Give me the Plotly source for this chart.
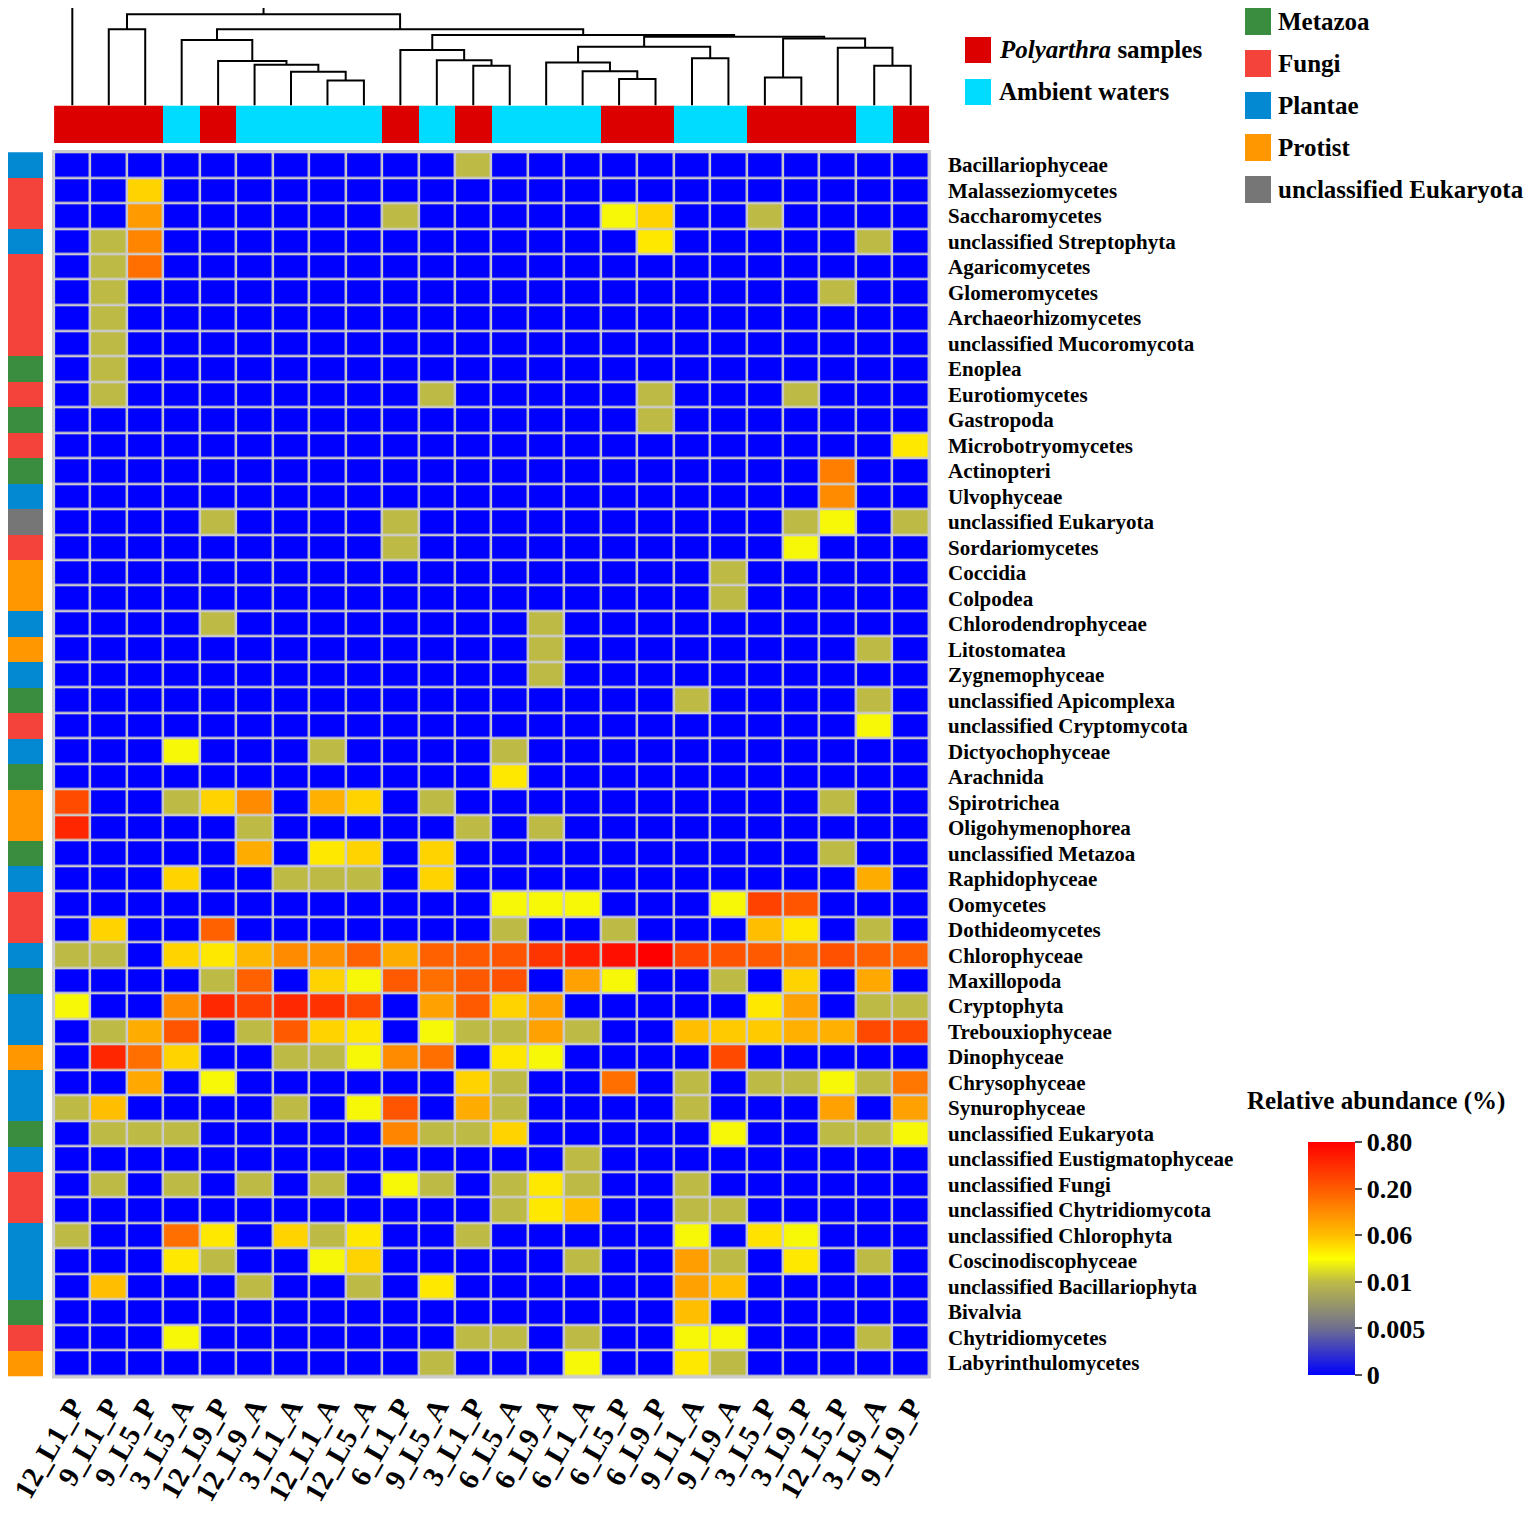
import numpy as np
import plotly.graph_objects as go

W, H = 1535, 1525
# the page puts the plot 8px in from the corner, so the figure is a bit smaller
OFF = 8
FW, FH = W - OFF, H - OFF
FONT = 'Liberation Serif, Times New Roman, serif'


def px_x(p):
    return min(max((p - OFF) / FW, 0.0), 1.0)


def px_y(p):
    return min(max(1 - (p - OFF) / FH, 0.0), 1.0)


samples = ['12_L1_P', '9_L1_P', '9_L5_P', '3_L5_A', '12_L9_P', '12_L9_A', '3_L1_A', '12_L1_A',
           '12_L5_A', '6_L1_P', '9_L5_A', '3_L1_P', '6_L5_A', '6_L9_A', '6_L1_A', '6_L5_P',
           '6_L9_P', '9_L1_A', '9_L9_A', '3_L5_P', '3_L9_P', '12_L5_P', '3_L9_A', '9_L9_P']

taxa = ['Bacillariophyceae', 'Malasseziomycetes', 'Saccharomycetes', 'unclassified Streptophyta',
        'Agaricomycetes', 'Glomeromycetes', 'Archaeorhizomycetes', 'unclassified Mucoromycota',
        'Enoplea', 'Eurotiomycetes', 'Gastropoda', 'Microbotryomycetes', 'Actinopteri',
        'Ulvophyceae', 'unclassified Eukaryota', 'Sordariomycetes', 'Coccidia', 'Colpodea',
        'Chlorodendrophyceae', 'Litostomatea', 'Zygnemophyceae', 'unclassified Apicomplexa',
        'unclassified Cryptomycota', 'Dictyochophyceae', 'Arachnida', 'Spirotrichea',
        'Oligohymenophorea', 'unclassified Metazoa', 'Raphidophyceae', 'Oomycetes',
        'Dothideomycetes', 'Chlorophyceae', 'Maxillopoda', 'Cryptophyta', 'Trebouxiophyceae',
        'Dinophyceae', 'Chrysophyceae', 'Synurophyceae', 'unclassified Eukaryota',
        'unclassified Eustigmatophyceae', 'unclassified Fungi', 'unclassified Chytridiomycota',
        'unclassified Chlorophyta', 'Coscinodiscophyceae', 'unclassified Bacillariophyta',
        'Bivalvia', 'Chytridiomycetes', 'Labyrinthulomycetes']

taxa_kingdom = ['Plantae', 'Fungi', 'Fungi', 'Plantae', 'Fungi', 'Fungi', 'Fungi', 'Fungi',
                'Metazoa', 'Fungi', 'Metazoa', 'Fungi', 'Metazoa', 'Plantae',
                'unclassified Eukaryota', 'Fungi', 'Protist', 'Protist', 'Plantae', 'Protist',
                'Plantae', 'Metazoa', 'Fungi', 'Plantae', 'Metazoa', 'Protist', 'Protist',
                'Metazoa', 'Plantae', 'Fungi', 'Fungi', 'Plantae', 'Metazoa', 'Plantae',
                'Plantae', 'Protist', 'Plantae', 'Plantae', 'Metazoa', 'Plantae', 'Fungi',
                'Fungi', 'Plantae', 'Plantae', 'Plantae', 'Metazoa', 'Fungi', 'Protist']

kingdoms = ['Metazoa', 'Fungi', 'Plantae', 'Protist', 'unclassified Eukaryota']
kingdom_colors = ['#3a8d3e', '#f4433a', '#0289d2', '#ff9800', '#767676']

groups = ['Polyarthra samples', 'Ambient waters']
group_colors = ['#dd0000', '#00dcff']

# relative abundance (%), one row per taxon, columns in sample order
abundance = [
    [0, 0, 0, 0, 0, 0, 0, 0, 0, 0, 0, .01, 0, 0, 0, 0, 0, 0, 0, 0, 0, 0, 0, 0],
    [0, 0, .052, 0, 0, 0, 0, 0, 0, 0, 0, 0, 0, 0, 0, 0, 0, 0, 0, 0, 0, 0, 0, 0],
    [0, 0, .11, 0, 0, 0, 0, 0, 0, .01, 0, 0, 0, 0, 0, .032, .052, 0, 0, .01, 0, 0, 0, 0],
    [0, .01, .14, 0, 0, 0, 0, 0, 0, 0, 0, 0, 0, 0, 0, 0, .044, 0, 0, 0, 0, 0, .01, 0],
    [0, .01, .17, 0, 0, 0, 0, 0, 0, 0, 0, 0, 0, 0, 0, 0, 0, 0, 0, 0, 0, 0, 0, 0],
    [0, .01, 0, 0, 0, 0, 0, 0, 0, 0, 0, 0, 0, 0, 0, 0, 0, 0, 0, 0, 0, .01, 0, 0],
    [0, .01, 0, 0, 0, 0, 0, 0, 0, 0, 0, 0, 0, 0, 0, 0, 0, 0, 0, 0, 0, 0, 0, 0],
    [0, .01, 0, 0, 0, 0, 0, 0, 0, 0, 0, 0, 0, 0, 0, 0, 0, 0, 0, 0, 0, 0, 0, 0],
    [0, .01, 0, 0, 0, 0, 0, 0, 0, 0, 0, 0, 0, 0, 0, 0, 0, 0, 0, 0, 0, 0, 0, 0],
    [0, .01, 0, 0, 0, 0, 0, 0, 0, 0, .01, 0, 0, 0, 0, 0, .01, 0, 0, 0, .01, 0, 0, 0],
    [0, 0, 0, 0, 0, 0, 0, 0, 0, 0, 0, 0, 0, 0, 0, 0, .01, 0, 0, 0, 0, 0, 0, 0],
    [0, 0, 0, 0, 0, 0, 0, 0, 0, 0, 0, 0, 0, 0, 0, 0, 0, 0, 0, 0, 0, 0, 0, .044],
    [0, 0, 0, 0, 0, 0, 0, 0, 0, 0, 0, 0, 0, 0, 0, 0, 0, 0, 0, 0, 0, .15, 0, 0],
    [0, 0, 0, 0, 0, 0, 0, 0, 0, 0, 0, 0, 0, 0, 0, 0, 0, 0, 0, 0, 0, .13, 0, 0],
    [0, 0, 0, 0, .01, 0, 0, 0, 0, .01, 0, 0, 0, 0, 0, 0, 0, 0, 0, 0, .01, .032, 0, .01],
    [0, 0, 0, 0, 0, 0, 0, 0, 0, .01, 0, 0, 0, 0, 0, 0, 0, 0, 0, 0, .032, 0, 0, 0],
    [0, 0, 0, 0, 0, 0, 0, 0, 0, 0, 0, 0, 0, 0, 0, 0, 0, 0, .01, 0, 0, 0, 0, 0],
    [0, 0, 0, 0, 0, 0, 0, 0, 0, 0, 0, 0, 0, 0, 0, 0, 0, 0, .01, 0, 0, 0, 0, 0],
    [0, 0, 0, 0, .01, 0, 0, 0, 0, 0, 0, 0, 0, .01, 0, 0, 0, 0, 0, 0, 0, 0, 0, 0],
    [0, 0, 0, 0, 0, 0, 0, 0, 0, 0, 0, 0, 0, .01, 0, 0, 0, 0, 0, 0, 0, 0, .01, 0],
    [0, 0, 0, 0, 0, 0, 0, 0, 0, 0, 0, 0, 0, .01, 0, 0, 0, 0, 0, 0, 0, 0, 0, 0],
    [0, 0, 0, 0, 0, 0, 0, 0, 0, 0, 0, 0, 0, 0, 0, 0, 0, .01, 0, 0, 0, 0, .01, 0],
    [0, 0, 0, 0, 0, 0, 0, 0, 0, 0, 0, 0, 0, 0, 0, 0, 0, 0, 0, 0, 0, 0, .032, 0],
    [0, 0, 0, .032, 0, 0, 0, .01, 0, 0, 0, 0, .01, 0, 0, 0, 0, 0, 0, 0, 0, 0, 0, 0],
    [0, 0, 0, 0, 0, 0, 0, 0, 0, 0, 0, 0, .044, 0, 0, 0, 0, 0, 0, 0, 0, 0, 0, 0],
    [.3, 0, 0, .01, .052, .13, 0, .08, .052, 0, .01, 0, 0, 0, 0, 0, 0, 0, 0, 0, 0, .01, 0, 0],
    [.55, 0, 0, 0, 0, .01, 0, 0, 0, 0, 0, .01, 0, .01, 0, 0, 0, 0, 0, 0, 0, 0, 0, 0],
    [0, 0, 0, 0, 0, .085, 0, .044, .052, 0, .052, 0, 0, 0, 0, 0, 0, 0, 0, 0, 0, .01, 0, 0],
    [0, 0, 0, .052, 0, 0, .01, .01, .01, 0, .052, 0, 0, 0, 0, 0, 0, 0, 0, 0, 0, 0, .085, 0],
    [0, 0, 0, 0, 0, 0, 0, 0, 0, 0, 0, 0, .032, .032, .032, 0, 0, 0, .032, .36, .23, 0, 0, 0],
    [0, .052, 0, 0, .19, 0, 0, 0, 0, 0, 0, 0, .01, 0, 0, .01, 0, 0, 0, .06, .044, 0, .01, 0],
    [.01, .01, 0, .052, .044, .07, .13, .125, .19, .085, .19, .2, .23, .45, .6, .7, .8, .34, .25, .2, .17, .26, .19, .19],
    [0, 0, 0, 0, .01, .19, 0, .052, .032, .2, .17, .21, .26, 0, .1, .032, 0, 0, .01, 0, .052, 0, .09, 0],
    [.032, 0, 0, .13, .53, .36, .53, .47, .32, 0, .1, .2, .052, .1, 0, 0, 0, 0, 0, .044, .1, 0, .01, .01],
    [0, .01, .085, .23, 0, .01, .2, .052, .044, 0, .032, .01, .01, .1, .01, 0, 0, .06, .055, .055, .08, .08, .32, .32],
    [0, .55, .17, .052, 0, 0, .01, .01, .032, .13, .17, 0, .044, .032, 0, 0, 0, 0, .32, 0, 0, 0, 0, 0],
    [0, 0, .09, 0, .032, 0, 0, 0, 0, 0, 0, .052, .01, 0, 0, .17, 0, .01, 0, .01, .01, .032, .01, .16],
    [.01, .06, 0, 0, 0, 0, .01, 0, .032, .23, 0, .085, .01, 0, 0, 0, 0, .01, 0, 0, 0, .1, 0, .1],
    [0, .01, .01, .01, 0, 0, 0, 0, 0, .14, .01, .01, .052, 0, 0, 0, 0, 0, .032, 0, 0, .01, .01, .032],
    [0, 0, 0, 0, 0, 0, 0, 0, 0, 0, 0, 0, 0, 0, .01, 0, 0, 0, 0, 0, 0, 0, 0, 0],
    [0, .01, 0, .01, 0, .01, 0, .01, 0, .032, .01, 0, .01, .044, .01, 0, 0, .01, 0, 0, 0, 0, 0, 0],
    [0, 0, 0, 0, 0, 0, 0, 0, 0, 0, 0, 0, .01, .044, .06, 0, 0, .01, .01, 0, 0, 0, 0, 0],
    [.01, 0, 0, .17, .044, 0, .052, .01, .044, 0, 0, .01, 0, 0, 0, 0, 0, .032, 0, .046, .032, 0, 0, 0],
    [0, 0, 0, .044, .01, 0, 0, .032, .052, 0, 0, 0, 0, 0, .01, 0, 0, .105, .01, 0, .044, 0, .01, 0],
    [0, .06, 0, 0, 0, .01, 0, 0, .01, 0, .044, 0, 0, 0, 0, 0, 0, .1, .06, 0, 0, 0, 0, 0],
    [0, 0, 0, 0, 0, 0, 0, 0, 0, 0, 0, 0, 0, 0, 0, 0, 0, .06, 0, 0, 0, 0, 0, 0],
    [0, 0, 0, .032, 0, 0, 0, 0, 0, 0, 0, .01, .01, 0, .01, 0, 0, .032, .032, 0, 0, 0, .01, 0],
    [0, 0, 0, 0, 0, 0, 0, 0, 0, 0, .01, 0, 0, 0, .032, 0, 0, .044, .01, 0, 0, 0, 0, 0],
]

# sample dendrogram: (left node, right node, height); leaves are 0..23, merges numbered from 24
linkage = [
    (7, 8, 76), (6, 24, 102), (5, 25, 123), (4, 26, 135), (3, 27, 198), (1, 2, 231),
    (11, 12, 120), (10, 30, 137), (9, 31, 168), (15, 16, 80), (14, 33, 104), (13, 34, 130),
    (17, 18, 143), (35, 36, 178), (19, 20, 85), (22, 23, 120), (21, 39, 175), (38, 40, 203),
    (37, 41, 208), (32, 42, 213), (28, 43, 231), (29, 44, 276), (0, 45, 298),
]

cbar_values = [0, 0.005, 0.01, 0.06, 0.20, 0.80]
cbar_labels = ['0', '0.005', '0.01', '0.06', '0.20', '0.80']

# colour scale is piecewise linear between the legend ticks
cbar_pos = np.linspace(0, 1, len(cbar_values))
z = np.interp(np.array(abundance, dtype=float), cbar_values, cbar_pos)

colorscale = [[0, '#0000ff'], [0.2, '#6f6f90'], [0.4, '#bdbb46'], [0.5, '#ffff00'],
              [0.6, '#ffbe00'], [0.7, '#ff8c00'], [0.8, '#ff5a00'], [0.9, '#ff2d00'], [1, '#ff0000']]


def discrete_scale(colors):
    n = len(colors)
    out = []
    for i, c in enumerate(colors):
        out.append([i / n, c])
        out.append([(i + 1) / n, c])
    return out


n_s = len(samples)
n_t = len(taxa)
rows = list(range(n_t))
cols = list(range(n_s))

fig = go.Figure()

fig.add_trace(go.Heatmap(
    z=z, x=cols, y=rows, zmin=0, zmax=1, colorscale=colorscale, xgap=2.5, ygap=2.5,
    colorbar=dict(
        x=px_x(1308), xanchor='left', y=px_y(1258.5), yanchor='middle',
        lenmode='pixels', len=233, thickness=47, outlinewidth=0, xpad=0, ypad=0,
        tickvals=list(cbar_pos), ticktext=cbar_labels, ticks='outside', ticklen=7,
        tickwidth=2, tickcolor='#555555',
        tickfont=dict(family=FONT, size=26, color='black', weight='bold'),
    ),
))

# sample type bar
group_idx = [0 if s.endswith('P') else 1 for s in samples]
fig.add_trace(go.Heatmap(
    z=[group_idx], x=cols, y=[0], zmin=-0.5, zmax=1.5,
    colorscale=discrete_scale(group_colors), showscale=False,
    xaxis='x2', yaxis='y2', hoverinfo='skip',
))

# kingdom bar
kingdom_idx = [[kingdoms.index(k)] for k in taxa_kingdom]
fig.add_trace(go.Heatmap(
    z=kingdom_idx, x=[0], y=rows, zmin=-0.5, zmax=len(kingdoms) - 0.5,
    colorscale=discrete_scale(kingdom_colors), showscale=False,
    xaxis='x4', yaxis='y', hoverinfo='skip',
))

# dendrogram
pos = {i: float(i) for i in range(n_s)}
hgt = {i: 0.0 for i in range(n_s)}
dx, dy = [], []
for k, (a, b, h) in enumerate(linkage):
    dx += [pos[a], pos[a], pos[b], pos[b], None]
    dy += [hgt[a], h, h, hgt[b], None]
    pos[n_s + k] = (pos[a] + pos[b]) / 2
    hgt[n_s + k] = h
fig.add_trace(go.Scatter(x=dx, y=dy, mode='lines', line=dict(color='black', width=2),
                         xaxis='x3', yaxis='y3', cliponaxis=False, hoverinfo='skip',
                         showlegend=False))

xr = [-0.53, n_s - 0.47]
xdom = [px_x(53), px_x(930)]
fig.update_layout(
    width=FW, height=FH, margin=dict(l=0, r=0, t=0, b=0, autoexpand=False),
    paper_bgcolor='white', plot_bgcolor='white', showlegend=False,
    xaxis=dict(domain=xdom, range=xr, anchor='y', tickmode='array', tickvals=cols,
               ticktext=samples, tickangle=-60, showgrid=False, zeroline=False,
               showline=False, ticks='', ticklabelstandoff=6, automargin=False,
               ticklabeloverflow='allow',
               tickfont=dict(family=FONT, size=29, color='black', weight='bold')),
    yaxis=dict(domain=[px_y(1377), px_y(151.5)], range=[n_t - 0.47, -0.53],
               anchor='x', visible=False),
    xaxis2=dict(domain=xdom, range=xr, anchor='y2', visible=False),
    yaxis2=dict(domain=[px_y(143), px_y(105.5)], range=[-0.5, 0.5], anchor='x2',
                visible=False),
    xaxis3=dict(domain=xdom, range=xr, anchor='y3', visible=False),
    # tree top sits at the very top of the figure
    yaxis3=dict(domain=[px_y(105.5), 1], range=[0, 295], anchor='x3', visible=False),
    xaxis4=dict(domain=[0, px_x(43)], range=[-0.5, 0.5], anchor='y', visible=False),
)

# grey grid behind the heatmap cells
fig.add_shape(type='rect', xref='paper', yref='paper', layer='below',
              x0=px_x(52), x1=px_x(931), y0=px_y(1378.5), y1=px_y(150),
              fillcolor='#cccccc', line_width=0)

label_font = dict(family=FONT, size=21, color='black', weight='bold')
for i, name in enumerate(taxa):
    fig.add_annotation(x=px_x(946), xref='paper', y=i, yref='y', text=name, showarrow=False,
                       xanchor='left', yanchor='middle', font=label_font)

legend_font = dict(family=FONT, size=25, color='black', weight='bold')
group_text = ['<i>Polyarthra</i> samples', 'Ambient waters']
for i, (txt, col) in enumerate(zip(group_text, group_colors)):
    yc = 50 + 42 * i
    fig.add_shape(type='rect', xref='paper', yref='paper', x0=px_x(965), x1=px_x(991),
                  y0=px_y(yc + 13), y1=px_y(yc - 13), fillcolor=col, line_width=0)
    fig.add_annotation(x=px_x(997), y=px_y(yc), xref='paper', yref='paper', text=txt,
                       showarrow=False, xanchor='left', yanchor='middle', font=legend_font)

for i, (txt, col) in enumerate(zip(kingdoms, kingdom_colors)):
    yc = 21.5 + 42 * i
    fig.add_shape(type='rect', xref='paper', yref='paper', x0=px_x(1245), x1=px_x(1271),
                  y0=px_y(yc + 13.5), y1=px_y(yc - 13.5), fillcolor=col, line_width=0)
    fig.add_annotation(x=px_x(1276), y=px_y(yc), xref='paper', yref='paper', text=txt,
                       showarrow=False, xanchor='left', yanchor='middle', font=legend_font)

fig.add_annotation(x=px_x(1376), y=px_y(1101), xref='paper', yref='paper',
                   text='Relative abundance (%)', showarrow=False, xanchor='center',
                   yanchor='middle', font=legend_font)

fig.write_html('out.html')
